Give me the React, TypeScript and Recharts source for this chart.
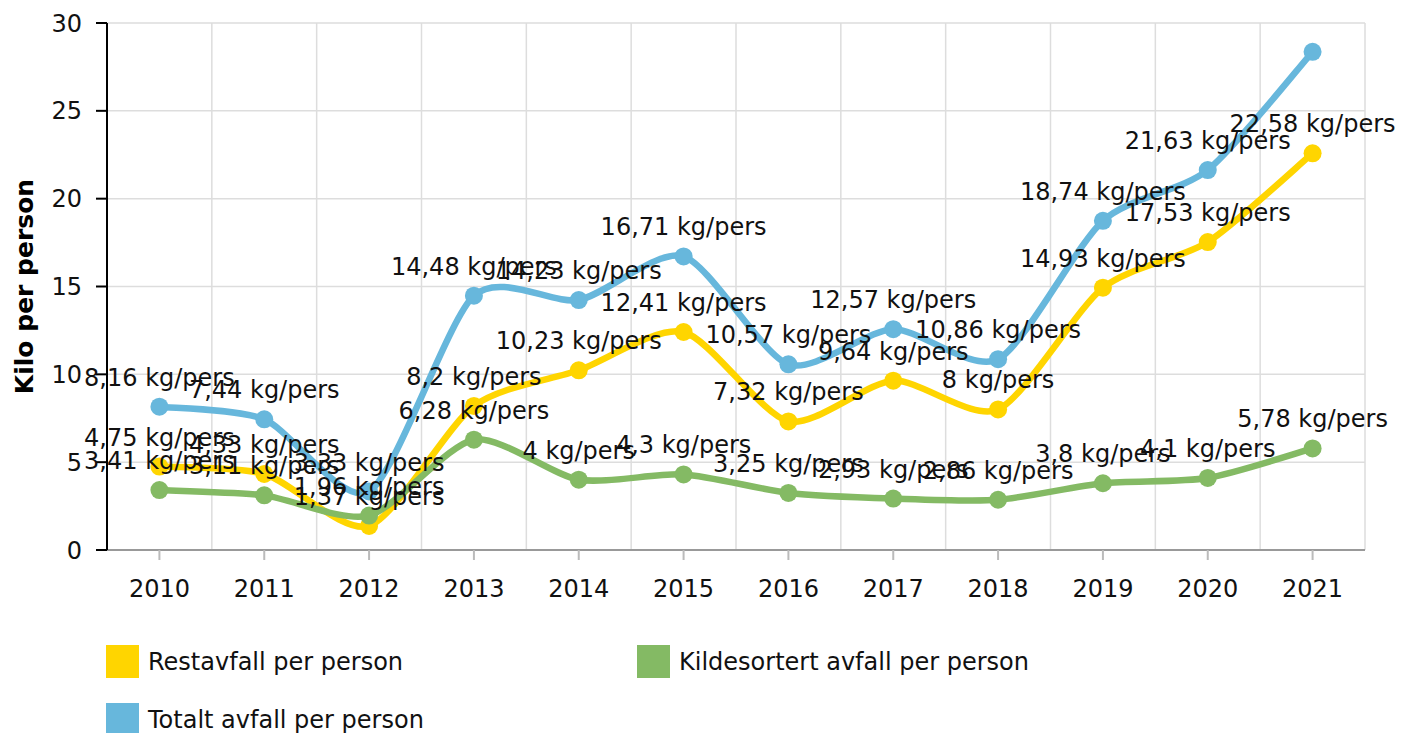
import React from 'react';
import { LineChart, Line, XAxis, YAxis, CartesianGrid, LabelList } from 'recharts';

// Values (kg per person)
const years = ['2010', '2011', '2012', '2013', '2014', '2015', '2016', '2017', '2018', '2019', '2020', '2021'];
const restavfall = [4.75, 4.33, 1.37, 8.2, 10.23, 12.41, 7.32, 9.64, 8, 14.93, 17.53, 22.58];
const kildesortert = [3.41, 3.11, 1.96, 6.28, 4, 4.3, 3.25, 2.93, 2.86, 3.8, 4.1, 5.78];
const totalt = [8.16, 7.44, 3.33, 14.48, 14.23, 16.71, 10.57, 12.57, 10.86, 18.74, 21.63, 28.36];
const yTicks = [0, 5, 10, 15, 20, 25, 30];

// the reference shows no label on the last "totalt" point
const hiddenTotalLabels = [11];

const FONT = "Verdana, 'DejaVu Sans', sans-serif";
const YELLOW = '#ffd500';
const GREEN = '#84ba64';
const BLUE = '#67b7dc';

const series = [
  { key: 'rest', name: 'Restavfall per person', color: YELLOW },
  { key: 'kilde', name: 'Kildesortert avfall per person', color: GREEN },
  { key: 'total', name: 'Totalt avfall per person', color: BLUE },
];

const data = years.map((year, i) => ({
  year,
  rest: restavfall[i],
  kilde: kildesortert[i],
  total: totalt[i],
}));

// cardinal spline, a bit tighter than catmull-rom to match the original smoothing
const cardinal = (tension: number) => (context: any) => {
  let pts: number[][] = [];
  return {
    areaStart() {},
    areaEnd() {},
    lineStart() {
      pts = [];
    },
    point(x: number, y: number) {
      pts.push([+x, +y]);
    },
    lineEnd() {
      const n = pts.length;
      if (!n) return;
      context.moveTo(pts[0][0], pts[0][1]);
      const k = (1 - tension) / 6;
      for (let i = 0; i < n - 1; i++) {
        const p0 = pts[Math.max(i - 1, 0)];
        const p1 = pts[i];
        const p2 = pts[i + 1];
        const p3 = pts[Math.min(i + 2, n - 1)];
        context.bezierCurveTo(
          p1[0] + k * (p2[0] - p0[0]),
          p1[1] + k * (p2[1] - p0[1]),
          p2[0] - k * (p3[0] - p1[0]),
          p2[1] - k * (p3[1] - p1[1]),
          p2[0],
          p2[1]
        );
      }
    },
  };
};
const smooth = cardinal(0.25);

const fmt = (v: number) => `${String(v).replace('.', ',')} kg/pers`;

const makeLabel = (hidden: number[]) => (props: any) => {
  const { x, y, value, index } = props;
  if (hidden.includes(index) || value == null) return null;
  return (
    <text x={x} y={y - 21} textAnchor="middle" fontSize={24} fontFamily={FONT} fill="#111">
      {fmt(value)}
    </text>
  );
};

const App = () => {
  return (
    <div style={{ position: 'absolute', left: 0, top: 0, width: 1401, height: 733, background: '#fff', fontFamily: FONT }}>
      <LineChart width={1401} height={733} data={data} margin={{ top: 23, right: 36, left: 0, bottom: 0 }}>
        <CartesianGrid
          stroke="#dddddd"
          strokeWidth={1.5}
          verticalCoordinatesGenerator={({ offset }: any) =>
            years.map((_, i) => offset.left + ((i + 1) * offset.width) / years.length)
          }
        />
        <XAxis
          dataKey="year"
          scale="band"
          height={183}
          axisLine={{ stroke: '#999', strokeWidth: 2 }}
          tickLine={{ stroke: '#bbb', strokeWidth: 2 }}
          tickSize={10}
          tickMargin={20}
          tick={{ fontSize: 24, fill: '#111', fontFamily: FONT }}
          interval={0}
        />
        <YAxis
          width={107}
          domain={[0, 30]}
          ticks={yTicks}
          axisLine={{ stroke: '#000', strokeWidth: 2 }}
          tickLine={{ stroke: '#000', strokeWidth: 2 }}
          tickSize={11}
          tickMargin={14}
          tick={{ fontSize: 24, fill: '#111', fontFamily: FONT }}
          label={{
            value: 'Kilo per person',
            angle: -90,
            position: 'insideLeft',
            offset: 24,
            style: { textAnchor: 'middle', fontSize: 25, fontWeight: 'bold', fill: '#000', fontFamily: FONT },
          }}
        />
        {series.map((s) => (
          <Line
            key={s.key}
            dataKey={s.key}
            name={s.name}
            type={smooth as any}
            stroke={s.color}
            strokeWidth={6.5}
            dot={{ r: 9, fill: s.color, stroke: s.color, strokeWidth: 0 }}
            activeDot={false}
            isAnimationActive={false}
          />
        ))}
        {/* label-only copies so every label sits above all the lines */}
        {series.map((s) => (
          <Line
            key={`${s.key}-labels`}
            dataKey={s.key}
            stroke="none"
            dot={false}
            activeDot={false}
            legendType="none"
            isAnimationActive={false}
          >
            <LabelList dataKey={s.key} content={makeLabel(s.key === 'total' ? hiddenTotalLabels : [])} />
          </Line>
        ))}
      </LineChart>
      {series.map((s, i) => (
        <div
          key={s.key}
          style={{
            position: 'absolute',
            left: i === 1 ? 637 : 106,
            top: i === 2 ? 703 : 645,
            height: 33,
            display: 'flex',
            alignItems: 'center',
            fontSize: 24,
            color: '#111',
            whiteSpace: 'nowrap',
          }}
        >
          <span style={{ display: 'inline-block', width: 33, height: 33, background: s.color, marginRight: 9 }} />
          {s.name}
        </div>
      ))}
    </div>
  );
};

export default App;
